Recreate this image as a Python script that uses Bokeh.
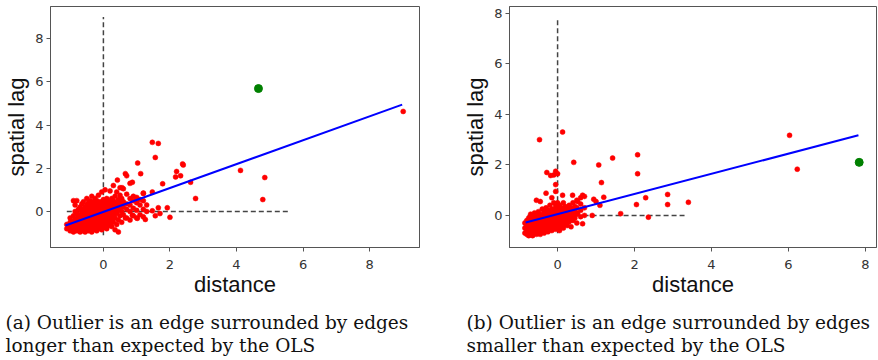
from bokeh.plotting import figure
from bokeh.models import Range1d, FixedTicker, Label
from bokeh.layouts import column, row
from bokeh.embed import file_html
from bokeh.resources import INLINE

# ---------------- data: panel (a) ----------------
left_strip_x = [-1.1, -1.0, -0.9, -0.85, -0.8, -0.75, -0.7, -0.65, -0.6, -0.55, -0.5, -0.45, -0.4,
                -0.35, -0.3, -0.25, -0.2, -0.15, -0.1, -0.05, 0.0, 0.05, 0.1, 0.15, 0.2, 0.25, 0.3,
                0.35, 0.4, 0.45, 0.5, 0.55, 0.6, 0.7, 0.8, 0.9, 1.0, 1.1, 1.2, 1.3]
left_strip_y = [
    [-0.8, -0.6], [-0.9, -0.7, -0.5, -0.3], [-0.95, -0.8, -0.6, -0.45, -0.2, 0.5],
    [-0.7, -0.35, 0.0, 0.3], [-0.9, -0.75, -0.55, -0.4, -0.1, 0.5], [-0.85, -0.65, -0.5, -0.25, 0.1],
    [-0.95, -0.8, -0.6, -0.45, -0.3, -0.15, 0.2], [-0.9, -0.7, -0.5, -0.35, 0.0, 0.35],
    [-0.85, -0.7, -0.55, -0.4, -0.2, 0.1, 0.45], [-0.95, -0.75, -0.6, -0.45, -0.3, -0.1, 0.2],
    [-0.85, -0.65, -0.5, -0.35, -0.2, 0.05, 0.3, 0.6], [-0.9, -0.75, -0.55, -0.4, -0.25, -0.1, 0.15, 0.4],
    [-0.8, -0.6, -0.45, -0.3, -0.15, 0.0, 0.25, 0.5], [-0.95, -0.7, -0.5, -0.35, -0.2, 0.1, 0.3, 0.7],
    [-0.85, -0.6, -0.45, -0.3, -0.1, 0.05, 0.2, 0.45], [-0.75, -0.55, -0.4, -0.2, 0.0, 0.15, 0.35, 0.6],
    [-0.9, -0.65, -0.45, -0.3, -0.1, 0.1, 0.3, 0.5], [-0.8, -0.55, -0.35, -0.15, 0.0, 0.2, 0.4, 0.75],
    [-0.7, -0.5, -0.3, -0.1, 0.05, 0.25, 0.45], [-0.85, -0.6, -0.4, -0.2, 0.0, 0.15, 0.35, 0.9],
    [-0.75, -0.5, -0.3, -0.1, 0.1, 0.3, 0.55], [-0.6, -0.4, -0.2, 0.0, 0.2, 0.4, 1.0],
    [-0.8, -0.5, -0.25, -0.05, 0.15, 0.35, 0.6], [-0.65, -0.35, -0.1, 0.1, 0.3, 0.5],
    [-0.55, -0.3, 0.0, 0.2, 0.45, 0.95], [-0.7, -0.4, -0.15, 0.1, 0.3, 0.6],
    [-0.5, -0.2, 0.05, 0.25, 0.5, 1.2], [-0.85, -0.3, 0.0, 0.2, 0.4, 0.7],
    [-0.6, -0.1, 0.15, 0.35, 0.9], [-0.95, -0.4, 0.05, 0.3, 0.55], [-0.2, 0.1, 0.4, 0.75, 1.1],
    [-0.5, 0.0, 0.25, 0.6], [-0.15, 0.2, 0.45, 1.05], [-0.3, 0.1, 0.35, 0.8],
    [-0.4, 0.0, 0.3, 0.6, 1.3], [-0.2, 0.15, 0.5, 0.7], [-0.3, 0.05, 0.4, 0.65],
    [-0.15, 0.3, 0.55], [-0.25, 0.1, 0.5, 0.85], [0.0, 0.3]]
left_out_x = [1.47, 1.65, 1.56, 1.03, 2.38, 2.4, 4.12, 4.85, 4.79, 2.77, 2.62, 1.78, 1.12, 0.66,
              0.7, 2.17, 2.32, 2.2, 0.42, 0.56, 0.87, 1.2, 1.47, 1.65, 1.92, 2.0, 1.26, 1.56,
              1.47, 1.7, 9.01, 1.02, 0.87, 0.66]
left_out_y = [3.2, 3.15, 2.5, 2.24, 2.2, 2.15, 1.9, 1.57, 0.55, 0.6, 1.35, 1.28, 1.75, 1.75,
              1.65, 1.6, 1.65, 1.85, 1.45, 1.1, 1.35, 0.83, 0.9, 0.17, 0.17, -0.27, -0.37, -0.2,
              0.03, -0.1, 4.63, -0.32, -0.18, -0.3]
left_outlier = (4.66, 5.69)
left_fit = dict(slope=0.553, intercept=-0.02, x0=-1.14, x1=8.98)
left_vline = (-1.1, 9.0)     # y extent of dashed x=0 line
left_hline = (-1.1, 5.57)    # x extent of dashed y=0 line

# ---------------- data: panel (b) ----------------
right_strip_x = [-0.85, -0.8, -0.75, -0.7, -0.65, -0.6, -0.55, -0.5, -0.45, -0.4, -0.35, -0.3,
                 -0.25, -0.2, -0.15, -0.1, -0.05, 0.0, 0.05, 0.1, 0.15, 0.2, 0.25, 0.3, 0.35,
                 0.4, 0.45, 0.5, 0.6, 0.7]
right_strip_y = [
    [-0.7, -0.5, -0.3], [-0.75, -0.6, -0.4, -0.2], [-0.8, -0.65, -0.5, -0.35, -0.1],
    [-0.75, -0.6, -0.45, -0.3, -0.15, 0.05], [-0.8, -0.65, -0.55, -0.4, -0.25, -0.05],
    [-0.7, -0.55, -0.45, -0.3, -0.15, 0.1], [-0.75, -0.6, -0.5, -0.35, -0.2, 0.0, 0.6],
    [-0.7, -0.55, -0.4, -0.25, -0.1, 0.15], [-0.75, -0.6, -0.45, -0.3, -0.15, 0.05, 0.55],
    [-0.65, -0.5, -0.35, -0.2, 0.0, 0.25], [-0.7, -0.55, -0.4, -0.25, -0.05, 0.15],
    [-0.6, -0.45, -0.3, -0.15, 0.05, 0.3, 0.88], [-0.65, -0.5, -0.35, -0.2, 0.0, 0.2],
    [-0.55, -0.4, -0.25, -0.1, 0.1, 0.4], [-0.6, -0.45, -0.3, -0.15, 0.05, 0.25, 0.7],
    [-0.5, -0.35, -0.2, 0.0, 0.2, 0.5], [-0.55, -0.4, -0.25, -0.1, 0.1, 0.35, 0.95],
    [-0.45, -0.3, -0.15, 0.05, 0.25, 0.5], [-0.6, -0.35, -0.2, 0.0, 0.15, 0.4],
    [-0.45, -0.25, -0.05, 0.1, 0.3], [-0.5, -0.3, -0.1, 0.05, 0.2, 0.5],
    [-0.35, -0.15, 0.0, 0.2, 0.35], [-0.4, -0.2, 0.05, 0.25], [-0.25, -0.05, 0.15, 0.4],
    [-0.45, -0.15, 0.1, 0.3], [-0.2, 0.0, 0.2, 0.5], [-0.1, 0.15, 0.35],
    [-0.3, 0.05, 0.3, 0.6], [-0.05, 0.2, 0.45], [0.0, 0.3, 0.75]]
right_out_x = [6.03, 6.23, 2.86, 2.86, 3.4, -0.47, 0.13, 0.42, 1.07, 1.43, 2.08, 2.08, 1.14,
               2.29, 2.05, 2.36, 1.64, -0.28, -0.05, -0.1, -0.18, 0.0, -0.05, 0.13, 0.39, 0.52,
               0.6, 0.65, 1.0, 1.1, 1.2, 0.9, 0.52, 0.65, 0.94]
right_out_y = [3.17, 1.83, 0.83, 0.43, 0.52, 3.0, 3.3, 2.1, 2.0, 2.27, 2.4, 1.65, 1.3,
               0.7, 0.43, -0.07, 0.07, 1.7, 1.75, 1.6, 1.58, 1.65, 1.22, 0.8, 0.8, 0.55,
               0.7, 0.8, 0.55, 0.4, 0.72, 0.0, 0.1, -0.33, 0.64]
right_outlier = (7.84, 2.1)
right_fit = dict(slope=0.399, intercept=0.05, x0=-0.83, x1=7.82)
right_vline = (-0.71, 7.8)
right_hline = (-0.78, 3.3)

ticks = [0, 2, 4, 6, 8]
captions_a = ["(a) Outlier is an edge surrounded by edges", "longer than expected by the OLS"]
captions_b = ["(b) Outlier is an edge surrounded by edges", "smaller than expected by the OLS"]

AX_COL = "#555555"
TICK_COL = "#333333"


def flatten(sx, sy):
    xs, ys = [], []
    for x, col in zip(sx, sy):
        for y in col:
            xs.append(x)
            ys.append(y)
    return xs, ys


def panel(strip_x, strip_y, out_x, out_y, outlier, fit, vline, hline, xr, yr, fw,
          left_border, right_border):
    p = figure(frame_width=fw, frame_height=241, x_range=Range1d(*xr), y_range=Range1d(*yr),
               output_backend="svg", toolbar_location=None,
               min_border_left=left_border, min_border_right=right_border, min_border_top=6,
               min_border_bottom=53)
    p.grid.visible = False
    p.outline_line_color = AX_COL
    p.outline_line_width = 1
    p.background_fill_color = "white"
    p.border_fill_color = "white"

    # dashed reference lines
    p.line([0, 0], list(vline), line_color="#444444", line_width=1.5, line_dash="5 3")
    p.line(list(hline), [0, 0], line_color="#444444", line_width=1.5, line_dash="5 3")

    cx, cy = flatten(strip_x, strip_y)
    p.scatter(cx + out_x, cy + out_y, size=5, fill_color="red", line_color="red", line_width=0.5)

    fx = [fit["x0"], fit["x1"]]
    fy = [fit["slope"] * v + fit["intercept"] for v in fx]
    p.line(fx, fy, line_color="blue", line_width=2)

    p.scatter([outlier[0]], [outlier[1]], size=8, fill_color="green", line_color="green")

    for ax in (p.xaxis[0], p.yaxis[0]):
        ax.ticker = FixedTicker(ticks=ticks)
        ax.minor_tick_line_color = None
        ax.major_tick_in = 0
        ax.major_tick_out = 4
        ax.axis_line_color = AX_COL
        ax.major_tick_line_color = AX_COL
        ax.major_label_text_font = "DejaVu Sans"
        ax.major_label_text_font_size = "13px"
        ax.major_label_text_color = TICK_COL
        ax.axis_label_text_font = "Liberation Sans"
        ax.axis_label_text_font_size = "22px"
        ax.axis_label_text_font_style = "normal"
        ax.axis_label_text_color = "#111111"
    p.xaxis.axis_label = "distance"
    p.yaxis.axis_label = "spatial lag"
    p.xaxis.major_label_standoff = 8
    p.xaxis.axis_label_standoff = 0
    p.yaxis.major_label_standoff = 3
    p.yaxis.axis_label_standoff = 3
    return p


p1 = panel(left_strip_x, left_strip_y, left_out_x, left_out_y, left_outlier, left_fit,
           left_vline, left_hline, (-1.59, 9.5), (-1.67, 9.49), 369, 50, 40)
p2 = panel(right_strip_x, right_strip_y, right_out_x, right_out_y, right_outlier, right_fit,
           right_vline, right_hline, (-1.25, 8.29), (-1.27, 8.27), 367, 50, 2)

cap = figure(width=878, height=60, x_range=Range1d(0, 878), y_range=Range1d(0, 60),
             output_backend="svg", toolbar_location=None, min_border=0,
             x_axis_type=None, y_axis_type=None)
cap.grid.visible = False
cap.outline_line_color = None
for xpos, lines in ((5, captions_a), (466, captions_b)):
    for ypos, txt in zip((38, 15), lines):
        cap.add_layout(Label(x=xpos, y=ypos, x_units="screen", y_units="screen", text=txt,
                             text_font="DejaVu Serif", text_font_size="18.5px",
                             text_baseline="middle", text_color="#111111"))

layout = column(row(p1, p2, spacing=0), cap, spacing=0)
open("out.html", "w").write(file_html(layout, INLINE))
